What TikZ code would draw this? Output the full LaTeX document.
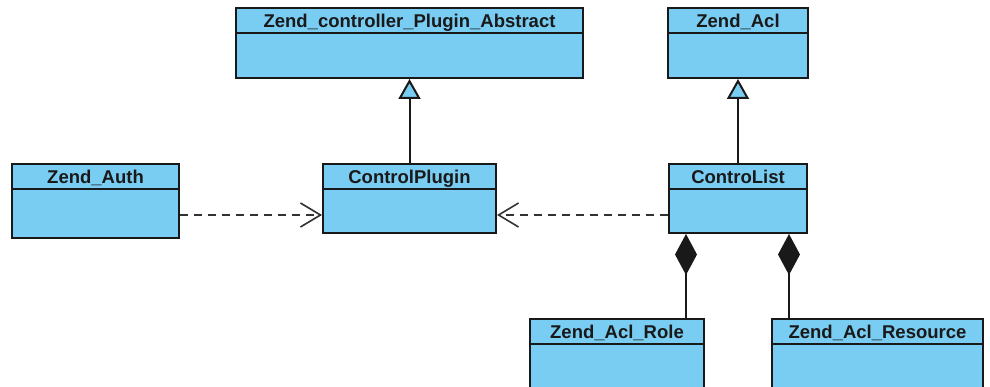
\documentclass[tikz,border=0pt]{standalone}
\usepackage{fontspec}
\setmainfont{Liberation Sans}
\usetikzlibrary{arrows.meta,calc}
\definecolor{clsfill}{RGB}{122,205,242}
\definecolor{clsline}{RGB}{25,25,25}
\definecolor{depline}{RGB}{50,50,50}
\tikzset{
  cls/.style={draw=clsline, fill=clsfill, line width=2pt, inner sep=0pt, anchor=north west},
  divline/.style={draw=clsline, line width=1.6pt},
  ttl/.style={anchor=base, inner sep=0pt, font=\fontsize{18.5}{20}\selectfont\bfseries, text=clsline},
  gen/.style={draw=clsline, line width=2pt, -{Triangle[length=20pt,width=22pt,fill=clsfill]}},
  comp/.style={draw=clsline, line width=2pt, {Diamond[length=41pt,width=22pt,fill=clsline]}-},
  dep/.style={draw=depline, line width=1.6pt, dash pattern=on 8pt off 6pt, -{Straight Barb[length=20pt,width=24pt,line width=1.6pt]}}
}
\newcommand\umlclass[7]{%
  \node[cls, minimum width={#4-#2}, minimum height={#5-#3}] (#1) at (#2,#3) {};
  \coordinate (#1-d) at (0,#6);
  \draw[divline] (#1.west |- #1-d) -- (#1.east |- #1-d);
  \coordinate (#1-b) at (0,#6-5.5);
  \node[ttl] (#1-t) at (#1.north |- #1-b) {#7};
}
\begin{document}
\begin{tikzpicture}[x=1pt,y=-1pt]
  \useasboundingbox (0,0) rectangle (990,387);
  \clip (0,0) rectangle (990,387);
  \fill[white] (0,0) rectangle (990,387);
  \umlclass{abs}{235}{7}{582}{77}{33}{Zend\_controller\_Plugin\_Abstract}
  \umlclass{acl}{667}{7}{807}{77}{33}{Zend\_Acl}
  \umlclass{auth}{11}{163}{178}{237}{189}{Zend\_Auth}
  \umlclass{cp}{322}{163}{495}{232}{189}{ControlPlugin}
  \umlclass{cl}{668}{163}{806}{232}{189}{ControList}
  \umlclass{role}{529}{318}{703}{400}{344}{Zend\_Acl\_Role}
  \umlclass{res}{771}{318}{982}{400}{344}{Zend\_Acl\_Resource}
  \coordinate (dy) at (0,215);
  \coordinate (rx) at (686,0);
  \coordinate (sx) at (789,0);
  \draw[gen] (cp.north) -- (abs.south);
  \draw[gen] (cl.north) -- (acl.south);
  \draw[dep] (auth.east |- dy) -- (cp.west |- dy);
  \draw[dep] (cl.west |- dy) -- (cp.east |- dy);
  \draw[comp] (cl.south -| rx) -- (role.north -| rx);
  \draw[comp] (cl.south -| sx) -- (res.north -| sx);
\end{tikzpicture}
\end{document}
